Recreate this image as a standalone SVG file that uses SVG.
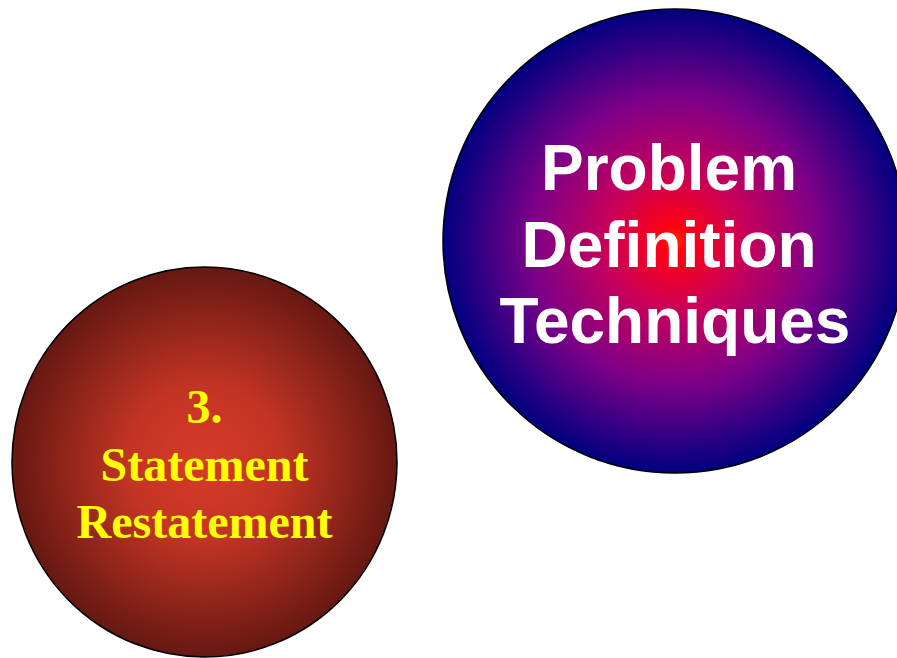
<svg xmlns="http://www.w3.org/2000/svg" width="897" height="658" viewBox="0 0 897 658">
  <defs>
    <radialGradient id="gBlue" cx="50%" cy="50%" r="50%">
      <stop offset="0" stop-color="#ff2a00"/>
      <stop offset="0.06" stop-color="#ff0010"/>
      <stop offset="0.3" stop-color="#c8005a"/>
      <stop offset="0.62" stop-color="#7c0088"/>
      <stop offset="1" stop-color="#000080"/>
    </radialGradient>
    <radialGradient id="gRed" cx="50%" cy="50%" r="50%">
      <stop offset="0" stop-color="#d83a28"/>
      <stop offset="0.4" stop-color="#c23424"/>
      <stop offset="1" stop-color="#661812"/>
    </radialGradient>
  </defs>
  <style>
    .circ { stroke: #000; stroke-width: 1.5; }
    .t1 { font-family: "Liberation Sans", Arial, sans-serif; font-weight: bold; font-size: 64px; fill: #ffffff; text-anchor: middle; }
    .t2 { font-family: "Liberation Serif", "Times New Roman", serif; font-weight: bold; font-size: 48px; fill: #ffff00; text-anchor: middle; }
  </style>
  <g id="node-main">
    <ellipse class="circ" cx="675" cy="241" rx="232" ry="232" fill="url(#gBlue)"/>
    <text class="t1" x="669" y="190">Problem</text>
    <text class="t1" x="669" y="267">Definition</text>
    <text class="t1" x="675" y="343">Techniques</text>
  </g>
  <g id="node-3">
    <ellipse class="circ" cx="204.5" cy="462" rx="192.5" ry="195" fill="url(#gRed)"/>
    <text class="t2" x="204.5" y="423">3.</text>
    <text class="t2" x="204.5" y="481">Statement</text>
    <text class="t2" x="204.5" y="538">Restatement</text>
  </g>
  <g id="connectors"></g>
</svg>
